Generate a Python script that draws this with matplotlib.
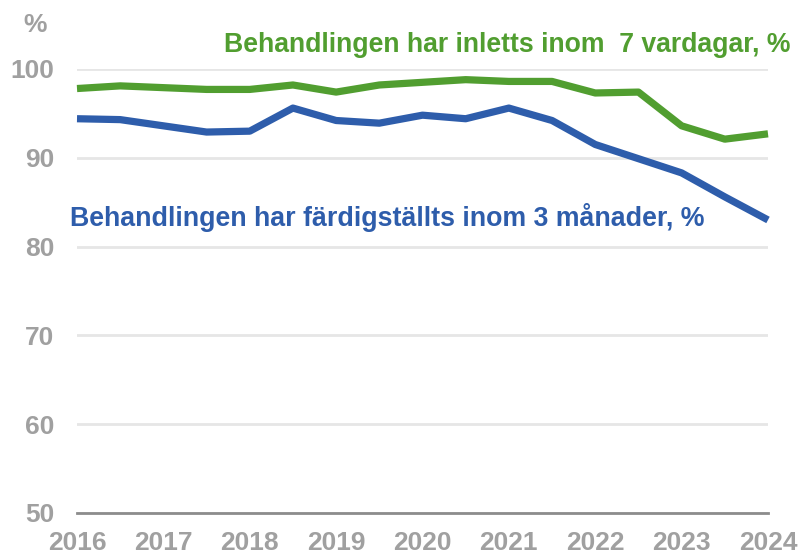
import numpy as np
import matplotlib.pyplot as plt

years = [2016, 2016.5, 2017, 2017.5, 2018, 2018.5, 2019, 2019.5, 2020,
         2020.5, 2021, 2021.5, 2022, 2022.5, 2023, 2023.5, 2024]
inletts_7_dagar = [97.8, 98.1, 97.9, 97.7, 97.7, 98.2, 97.4, 98.2, 98.5,
                   98.8, 98.6, 98.6, 97.3, 97.4, 93.6, 92.1, 92.7]
fardig_3_man = [94.4, 94.3, 93.6, 92.9, 93.0, 95.6, 94.2, 93.9, 94.8,
                94.4, 95.6, 94.2, 91.5, 89.9, 88.3, 85.6, 83.0]
year_ticks = list(range(2016, 2025))
y_ticks = [50, 60, 70, 80, 90, 100]

green = '#519E30'
blue = '#2E5DAB'
grey = '#A0A0A0'

plt.rcParams['font.family'] = ['Liberation Sans', 'DejaVu Sans']

fig = plt.figure(figsize=(8.02, 5.56), dpi=100)
ax = fig.add_axes([77 / 802, 1 - 513 / 556, (768 - 77) / 802, (513 - 69) / 556])

ax.plot(years, inletts_7_dagar, color=green, lw=5.2, solid_capstyle='butt', clip_on=False)
ax.plot(years, fardig_3_man, color=blue, lw=5.2, solid_capstyle='butt', clip_on=False)

ax.set_xlim(2016, 2024)
ax.set_ylim(50, 100)
ax.set_xticks(year_ticks)
ax.set_yticks(y_ticks)
ax.grid(axis='y', color='#E6E6E6', lw=2)
ax.set_axisbelow(True)
for s in ['top', 'right', 'left']:
    ax.spines[s].set_visible(False)
ax.spines['bottom'].set_color('#8C8C8C')
ax.spines['bottom'].set_linewidth(2)
ax.tick_params(length=0, labelsize=19, labelcolor=grey)
ax.tick_params(axis='y', pad=16.5)
ax.tick_params(axis='x', pad=13)
for lab in ax.get_xticklabels() + ax.get_yticklabels():
    lab.set_fontweight('bold')

fig.text(35 / 802, 1 - 25 / 556, '%', color=grey, fontsize=19, fontweight='bold',
         ha='center', va='center')
fig.text(790 / 802, 1 - 45 / 556, 'Behandlingen har inletts inom  7 vardagar, %',
         color=green, fontsize=19.2, fontweight='bold', ha='right', va='center')
fig.text(70 / 802, 1 - 217 / 556, 'Behandlingen har färdigställts inom 3 månader, %',
         color=blue, fontsize=19.3, fontweight='bold', ha='left', va='center')

fig.savefig('out.png', dpi=100)
